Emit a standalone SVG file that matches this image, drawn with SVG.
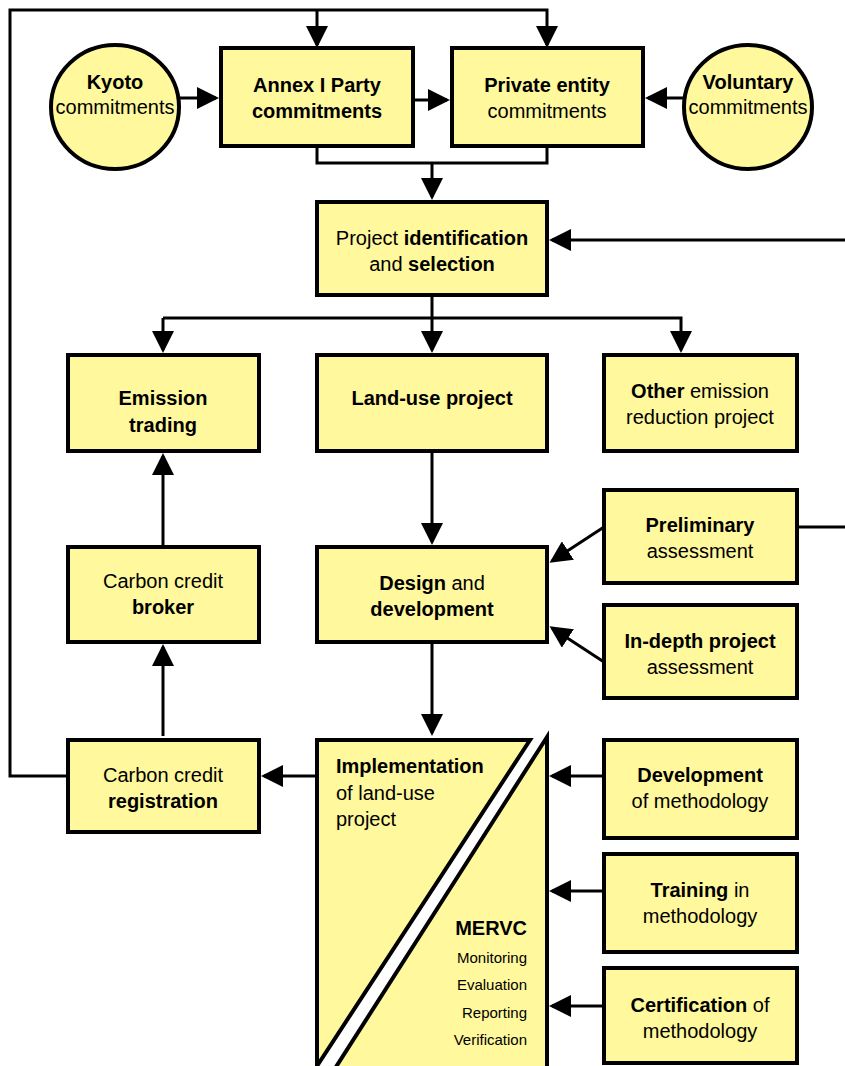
<svg xmlns="http://www.w3.org/2000/svg" width="845" height="1066" viewBox="0 0 845 1066">
<style>
.n{fill:#FFF89C;stroke:#000;stroke-width:4}
.c{fill:none;stroke:#000;stroke-width:3}
text{font-family:"Liberation Sans",Arial,sans-serif;font-size:20px;fill:#000;text-anchor:middle}
.b{font-weight:bold}
.s{font-size:15px;text-anchor:end}
.l{text-anchor:start}
</style>
<defs>
<marker id="a" viewBox="0 0 22 22" refX="19" refY="11" markerWidth="22" markerHeight="22" markerUnits="userSpaceOnUse" orient="auto">
<path d="M0,0 L22,11 L0,22 z" fill="#000"/>
</marker>
</defs>
<rect width="845" height="1066" fill="#fff"/>
<g id="connectors">
<path class="c" d="M66,776 H10 V10 H547 V45" marker-end="url(#a)"/>
<path class="c" d="M317,10 V45" marker-end="url(#a)"/>
<path class="c" d="M180,98 H216" marker-end="url(#a)"/>
<path class="c" d="M413,100 H447" marker-end="url(#a)"/>
<path class="c" d="M685,98 H648" marker-end="url(#a)"/>
<path class="c" d="M317,148 V163 H547 V148"/>
<path class="c" d="M432,163 V197" marker-end="url(#a)"/>
<path class="c" d="M845,240 H552" marker-end="url(#a)"/>
<path class="c" d="M432,297 V350" marker-end="url(#a)"/>
<path class="c" d="M163,318 V350" marker-end="url(#a)"/>
<path class="c" d="M163,318 H681 V350" marker-end="url(#a)"/>
<path class="c" d="M432,453 V542" marker-end="url(#a)"/>
<path class="c" d="M163,545 V456" marker-end="url(#a)"/>
<path class="c" d="M604,527 L552,561" marker-end="url(#a)"/>
<path class="c" d="M604,662 L552,628" marker-end="url(#a)"/>
<path class="c" d="M797,527 H845"/>
<path class="c" d="M432,644 V733" marker-end="url(#a)"/>
<path class="c" d="M315,776 H264" marker-end="url(#a)"/>
<path class="c" d="M163,736 V647" marker-end="url(#a)"/>
<path class="c" d="M604,776 H552" marker-end="url(#a)"/>
<path class="c" d="M604,891 H552" marker-end="url(#a)"/>
<path class="c" d="M604,1006 H552" marker-end="url(#a)"/>
</g>
<g id="kyoto">
<ellipse class="n" cx="115" cy="107" rx="64" ry="62"/>
<text x="115" y="89" class="b">Kyoto</text>
<text x="115" y="114">commitments</text>
</g>
<g id="annex">
<rect class="n" x="221" y="48" width="192" height="98"/>
<text x="317" y="92" class="b">Annex I Party</text>
<text x="317" y="118" class="b">commitments</text>
</g>
<g id="private">
<rect class="n" x="452" y="48" width="191" height="98"/>
<text x="547" y="92"><tspan class="b">Private entity</tspan></text>
<text x="547" y="118">commitments</text>
</g>
<g id="voluntary">
<ellipse class="n" cx="748" cy="107" rx="64" ry="62"/>
<text x="748" y="89" class="b">Voluntary</text>
<text x="748" y="114">commitments</text>
</g>
<g id="identification">
<rect class="n" x="317" y="202" width="230" height="93"/>
<text x="432" y="245">Project <tspan class="b">identification</tspan></text>
<text x="432" y="271">and <tspan class="b">selection</tspan></text>
</g>
<g id="emission">
<rect class="n" x="68" y="355" width="191" height="96"/>
<text x="163" y="405" class="b">Emission</text>
<text x="163" y="432" class="b">trading</text>
</g>
<g id="landuse">
<rect class="n" x="317" y="355" width="230" height="96"/>
<text x="432" y="405" class="b">Land-use project</text>
</g>
<g id="other">
<rect class="n" x="604" y="355" width="193" height="96"/>
<text x="700" y="398"><tspan class="b">Other</tspan> emission</text>
<text x="700" y="424">reduction project</text>
</g>
<g id="broker">
<rect class="n" x="68" y="547" width="191" height="95"/>
<text x="163" y="588">Carbon credit</text>
<text x="163" y="614" class="b">broker</text>
</g>
<g id="design">
<rect class="n" x="317" y="547" width="230" height="95"/>
<text x="432" y="590"><tspan class="b">Design</tspan> and</text>
<text x="432" y="616" class="b">development</text>
</g>
<g id="preliminary">
<rect class="n" x="604" y="490" width="193" height="93"/>
<text x="700" y="532" class="b">Preliminary</text>
<text x="700" y="558">assessment</text>
</g>
<g id="indepth">
<rect class="n" x="604" y="605" width="193" height="93"/>
<text x="700" y="648" class="b">In-depth project</text>
<text x="700" y="674">assessment</text>
</g>
<g id="registration">
<rect class="n" x="68" y="740" width="191" height="92"/>
<text x="163" y="782">Carbon credit</text>
<text x="163" y="808" class="b">registration</text>
</g>
<g id="implementation">
<polygon class="n" points="317,740 530,740 317,1066 317,1070"/>
<polygon class="n" points="547,737 547,1070 334,1070"/>
<text x="336" y="773" class="b l">Implementation</text>
<text x="336" y="800" class="l">of land-use</text>
<text x="336" y="826" class="l">project</text>
<text x="527" y="935" class="b" style="text-anchor:end">MERVC</text>
<text x="527" y="963" class="s">Monitoring</text>
<text x="527" y="990" class="s">Evaluation</text>
<text x="527" y="1018" class="s">Reporting</text>
<text x="527" y="1045" class="s">Verification</text>
</g>
<g id="devmethod">
<rect class="n" x="604" y="740" width="193" height="98"/>
<text x="700" y="782" class="b">Development</text>
<text x="700" y="808">of methodology</text>
</g>
<g id="training">
<rect class="n" x="604" y="854" width="193" height="98"/>
<text x="700" y="897"><tspan class="b">Training</tspan> in</text>
<text x="700" y="923">methodology</text>
</g>
<g id="certification">
<rect class="n" x="604" y="968" width="193" height="95"/>
<text x="700" y="1012"><tspan class="b">Certification</tspan> of</text>
<text x="700" y="1038">methodology</text>
</g>
</svg>
